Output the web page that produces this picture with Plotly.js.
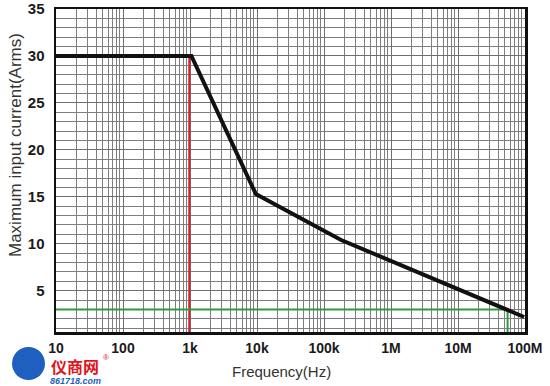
<!DOCTYPE html>
<html>
<head>
<meta charset="utf-8">
<script src="https://cdn.plot.ly/plotly-3.0.1.min.js"></script>
<style>html,body{margin:0;padding:0;background:#fff;}#chart{width:550px;height:386px;}</style>
</head>
<body>
<div id="chart"></div>
<script>
// Frequency ticks
var xTickVals = [10, 100, 1e3, 1e4, 1e5, 1e6, 1e7, 1e8];
var xTickText = ["10", "100", "1k", "10k", "100k", "1M", "10M", "100M"];
var yTickVals = [5, 10, 15, 20, 25, 30, 35];
var yTickText = ["5", "10", "15", "20", "25", "30", "35"];

// Maximum input current curve (Arms vs Hz)
var curveFreq = [10, 1050, 9600, 180000, 97000000];
var curveAmps = [30, 30, 15.3, 10.4, 2.2];

// Red marker line at ~1 kHz
var redFreq = [975, 975];
var redAmps = [30, 0];

// Green limit line
var greenFreq = [10, 55000000, 55000000];
var greenAmps = [3, 3, 0];

var traces = [
  {x: redFreq, y: redAmps, mode: 'lines', line: {color: '#d8232a', width: 2}, hoverinfo: 'skip'},
  {x: greenFreq, y: greenAmps, mode: 'lines', line: {color: '#2e9b40', width: 2}, hoverinfo: 'skip'},
  {x: curveFreq, y: curveAmps, mode: 'lines', line: {color: '#111111', width: 4}, hoverinfo: 'skip'}
];

var W = 469, H = 323, L = 56, T = 9;
function px(x){ return (x - L) / W; }
function py(y){ return (T + H - y) / H; }

var layout = {
  width: 550, height: 386,
  margin: {l: 56, r: 25, t: 9, b: 54},
  paper_bgcolor: '#ffffff', plot_bgcolor: '#ffffff',
  showlegend: false,
  xaxis: {
    type: 'log', range: [1, 8],
    tickmode: 'array', tickvals: xTickVals, ticktext: xTickText,
    showgrid: true, gridcolor: '#6e6e6e', gridwidth: 1,
    minor: {showgrid: true, dtick: 'D1', gridcolor: '#7e7e7e', gridwidth: 1},
    showline: true, mirror: true, linecolor: '#111', linewidth: 2.5,
    ticks: '', zeroline: false,
    ticklabelstandoff: 2,
    tickfont: {family: 'Liberation Sans, Arial, sans-serif', size: 14, color: '#1a1a1a', weight: 'bold'}
  },
  yaxis: {
    range: [0.6, 35],
    tickmode: 'array', tickvals: yTickVals, ticktext: yTickText,
    showgrid: true, gridcolor: '#6e6e6e', gridwidth: 1,
    minor: {showgrid: true, dtick: 1, tick0: 0, gridcolor: '#7e7e7e', gridwidth: 1},
    showline: true, mirror: true, linecolor: '#111', linewidth: 2.5,
    ticks: '', zeroline: false,
    ticklabelstandoff: 6,
    tickfont: {family: 'Liberation Sans, Arial, sans-serif', size: 15, color: '#1a1a1a', weight: 'bold'}
  },
  shapes: [
    {type: 'circle', xref: 'paper', yref: 'paper', x0: px(12), x1: px(45), y0: py(380), y1: py(347),
     fillcolor: '#1f5fc0', line: {width: 0}}
  ],
  annotations: [
    {text: 'Frequency(Hz)', xref: 'paper', yref: 'paper', x: px(281), y: py(371), xanchor: 'center', yanchor: 'middle',
     showarrow: false, font: {family: 'Liberation Sans, Arial, sans-serif', size: 15, color: '#333'}},
    {text: 'Maximum input current(Arms)', xref: 'paper', yref: 'paper', x: px(15), y: py(145), xanchor: 'center', yanchor: 'middle',
     textangle: -90, showarrow: false, font: {family: 'Liberation Sans, Arial, sans-serif', size: 17, color: '#333'}},
    {text: '仪商网', xref: 'paper', yref: 'paper', x: px(75), y: py(366), xanchor: 'center', yanchor: 'middle',
     showarrow: false, font: {family: 'Noto Sans CJK SC, sans-serif', size: 16, color: '#e0141e', weight: 'bold'}},
    {text: '®', xref: 'paper', yref: 'paper', x: px(106), y: py(357), xanchor: 'center', yanchor: 'middle',
     showarrow: false, font: {family: 'Liberation Sans, Arial, sans-serif', size: 8, color: '#e0141e'}},
    {text: '861718.com', xref: 'paper', yref: 'paper', x: px(75), y: py(381), xanchor: 'center', yanchor: 'middle',
     showarrow: false, font: {family: 'Liberation Sans, Arial, sans-serif', size: 9, color: '#1f5fc0', weight: 'bold', style: 'italic'}}
  ]
};

Plotly.newPlot('chart', traces, layout, {displayModeBar: false, staticPlot: true});
</script>
</body>
</html>
